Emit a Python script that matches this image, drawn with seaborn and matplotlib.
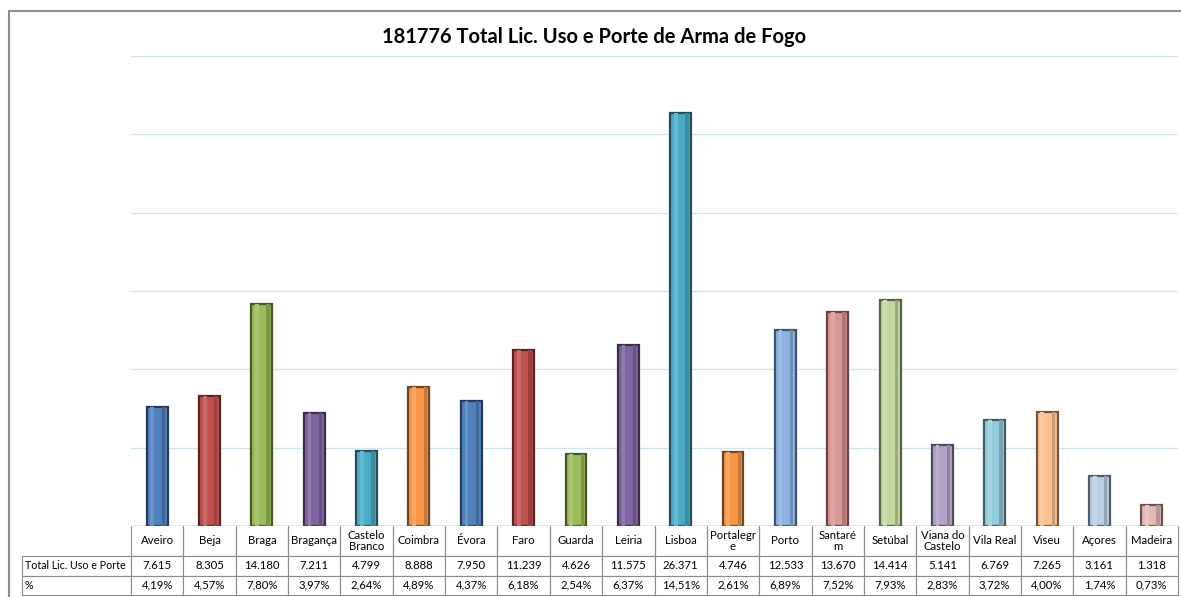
import matplotlib
matplotlib.use("Agg")
import matplotlib.pyplot as plt
import matplotlib.colors as mcolors
from matplotlib.patches import Rectangle
from matplotlib.lines import Line2D
import seaborn as sns

categories = ["Aveiro", "Beja", "Braga", "Bragança", "Castelo\nBranco", "Coimbra", "Évora",
              "Faro", "Guarda", "Leiria", "Lisboa", "Portalegr\ne", "Porto", "Santaré\nm",
              "Setúbal", "Viana do\nCastelo", "Vila Real", "Viseu", "Açores", "Madeira"]
totals = [7615, 8305, 14180, 7211, 4799, 8888, 7950, 11239, 4626, 11575, 26371, 4746,
          12533, 13670, 14414, 5141, 6769, 7265, 3161, 1318]
percents = ["4,19%", "4,57%", "7,80%", "3,97%", "2,64%", "4,89%", "4,37%", "6,18%", "2,54%",
            "6,37%", "14,51%", "2,61%", "6,89%", "7,52%", "7,93%", "2,83%", "3,72%", "4,00%",
            "1,74%", "0,73%"]
row_labels = ["Total Lic. Uso e Porte", "%"]
title = "181776 Total Lic. Uso e Porte de Arma de Fogo"
colors = ["#4F81BD", "#C0504D", "#9BBB59", "#8064A2", "#4BACC6", "#F79646",
          "#4F81BD", "#C0504D", "#9BBB59", "#8064A2", "#4BACC6", "#F79646",
          "#8DB3E2", "#D99694", "#C3D69B", "#B3A2C7", "#93CDDD", "#FAC090",
          "#B9CDE5", "#E6B9B8"]

sns.set_theme(style="white")
plt.rcParams['font.family'] = ['Lato', 'DejaVu Sans']

W, H = 1181, 597
fig = plt.figure(figsize=(W / 100, H / 100), dpi=100)
ax_l, ax_r, ax_t, ax_b = 131, 1178, 56, 526
ax = fig.add_axes([ax_l / W, 1 - ax_b / H, (ax_r - ax_l) / W, (ax_b - ax_t) / H])

keys = [f"c{i}" for i in range(len(categories))]
sns.barplot(x=keys, y=totals, hue=keys, palette=colors, legend=False, width=0.4,
            saturation=1, ax=ax)

def darker(c, f=0.45):
    r, g, b = mcolors.to_rgb(c)
    return (r * f, g * f, b * f)

def lighter(c, f=0.45):
    r, g, b = mcolors.to_rgb(c)
    return (r + (1 - r) * f, g + (1 - g) * f, b + (1 - b) * f)

for p, c in zip(ax.patches, colors):
    p.set_edgecolor(darker(c))
    p.set_linewidth(1.6)
    p.set_zorder(3)
    x, w, h = p.get_x(), p.get_width(), p.get_height()
    ax.add_patch(Rectangle((x + w * 0.18, 0), w * 0.18, h, facecolor=lighter(c, 0.15),
                           edgecolor="none", zorder=3.5))
    ax.add_patch(Rectangle((x + w * 0.72, 0), w * 0.16, h, facecolor=darker(c, 0.8),
                           edgecolor="none", zorder=3.5))

ax.set_xlim(-0.5, len(categories) - 0.5)
ax.set_ylim(0, 30000)
ax.set_yticks(range(0, 30001, 5000))
ax.yaxis.grid(True, color="#cfe6ee", linewidth=1)
ax.set_axisbelow(True)
ax.set_yticklabels([])
ax.set_xticks([])
ax.tick_params(left=False, bottom=False)
for s in ax.spines.values():
    s.set_visible(False)
ax.set_xlabel("")
ax.set_ylabel("")

# data table
cell_text = [[""] + categories,
             [row_labels[0]] + [f"{v:,}".replace(",", ".") for v in totals],
             [row_labels[1]] + percents]
axw = ax_r - ax_l
axh = ax_b - ax_t
tbl_left = 22
tbl_bottom = 595
lab_w = ax_l - tbl_left
col_w = axw / len(categories)
tbl = ax.table(cellText=cell_text, colWidths=[lab_w] + [col_w] * len(categories),
               cellLoc="center",
               bbox=[-lab_w / axw, -(tbl_bottom - ax_b) / axh, (lab_w + axw) / axw,
                     (tbl_bottom - ax_b) / axh])
tbl.auto_set_font_size(False)
heights = [30, 19.5, 19.5]
for (r, c), cell in tbl.get_celld().items():
    cell.set_height(heights[r])
    cell.set_edgecolor("#8a8a8a")
    cell.set_linewidth(0.8)
    cell.get_text().set_fontsize(8.2)
    cell.get_text().set_color("#000000")
    cell.get_text().set_linespacing(1.1)
    if c == 0:
        cell._loc = "left"
        cell.PAD = 0.025
        cell.get_text().set_horizontalalignment("left")
        cell.get_text().set_fontsize(7.7)
    if r == 0 and c == 0:
        cell.visible_edges = ""
    elif r == 0:
        cell.visible_edges = "LRB"
for cell in tbl.get_celld().values():
    cell.set_clip_on(False)

ax.axhline(0, color="#8c8c8c", linewidth=1, zorder=4)

# chart border (left and top edges only visible)
fig.add_artist(Line2D([8.5 / W, 8.5 / W], [0, 1 - 11 / H], transform=fig.transFigure,
                      color="#8c8c8c", linewidth=1.5))
fig.add_artist(Line2D([8.5 / W, 1], [1 - 11 / H, 1 - 11 / H], transform=fig.transFigure,
                      color="#8c8c8c", linewidth=1.5))

fig.text(0.503, 1 - 37 / H, title, ha="center", va="center", fontsize=14.5,
         fontweight="bold", color="#000000")

fig.savefig("out.png", dpi=100)
